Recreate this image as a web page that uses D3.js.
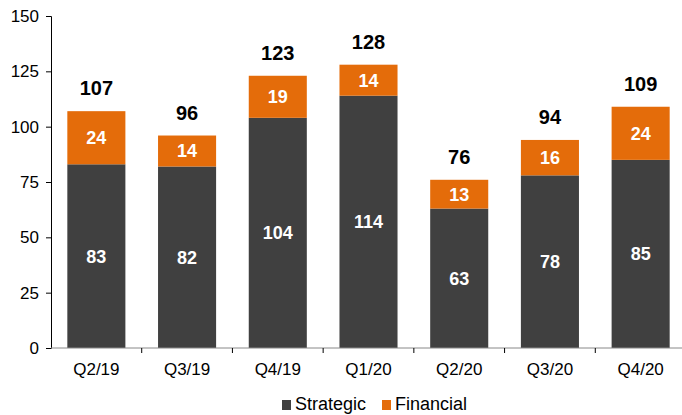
<!DOCTYPE html>
<meta charset="utf-8">
<head>
<title>strategic vs financial</title>
<script src="https://cdn.jsdelivr.net/npm/d3@7"></script>
<style>
  body { margin: 0; background: #fff; }
  svg { display: block; font-family: "Liberation Sans", Arial, sans-serif; }
</style>
</head>
<body>

<div id="chart"></div>

<script>

const width = 682;
const height = 415;

const quarters = ["Q2/19", "Q3/19", "Q4/19", "Q1/20", "Q2/20", "Q3/20", "Q4/20"];
const strategic = [83, 82, 104, 114, 63, 78, 85];
const financial = [24, 14, 19, 14, 13, 16, 24];
const yTicks = [0, 25, 50, 75, 100, 125, 150];
const seriesNames = ["Strategic", "Financial"];
const colors = ["#404040", "#e46c0a"];

const rows = quarters.map((q, i) => ({ q, Strategic: strategic[i], Financial: financial[i] }));
const stacked = d3.stack().keys(seriesNames)(rows);

const x = d3.scaleBand()
    .domain(quarters)
    .range([51, 686])
    .paddingInner(0.36)
    .paddingOuter(0.18);

const y = d3.scaleLinear()
    .domain([0, 150])
    .range([348, 16]);

const svg = d3.select("#chart")
  .append("svg")
    .attr("width", width)
    .attr("height", height);

// y axis
const yAxis = svg.append("g")
    .attr("transform", "translate(51,0)")
    .call(d3.axisLeft(y).tickValues(yTicks).tickSize(5).tickPadding(7));
yAxis.select(".domain").attr("stroke", "#000");
yAxis.selectAll(".tick line").attr("stroke", "#000");
yAxis.selectAll("text").style("font-size", "17px").attr("fill", "#000");

// bars
const layer = svg.append("g")
  .selectAll("g")
  .data(stacked)
  .join("g")
    .attr("fill", (d, i) => colors[i]);

layer.selectAll("rect")
  .data(d => d)
  .join("rect")
    .attr("x", d => x(d.data.q))
    .attr("y", d => y(d[1]))
    .attr("width", x.bandwidth())
    .attr("height", d => y(d[0]) - y(d[1]));

// segment labels
layer.selectAll("text")
  .data(d => d)
  .join("text")
    .attr("x", d => x(d.data.q) + x.bandwidth() / 2)
    .attr("y", d => (y(d[0]) + y(d[1])) / 2)
    .attr("dy", "0.36em")
    .attr("text-anchor", "middle")
    .attr("fill", "#fff")
    .style("font-size", "18px")
    .style("font-weight", "bold")
    .text(d => d[1] - d[0]);

// x axis
const xAxis = svg.append("g")
    .attr("transform", "translate(0,348)")
    .call(d3.axisBottom(x).tickSize(0).tickPadding(15));
xAxis.select(".domain").attr("stroke", "#888").attr("d", "M51,0H682");
xAxis.selectAll("text").style("font-size", "17px").attr("fill", "#000");

svg.append("g")
  .selectAll("line")
  .data(quarters.slice(1))
  .join("line")
    .attr("x1", d => x(d) - x.step() * x.paddingInner() / 2)
    .attr("x2", d => x(d) - x.step() * x.paddingInner() / 2)
    .attr("y1", 348)
    .attr("y2", 353)
    .attr("stroke", "#000");

// totals
svg.append("g")
  .selectAll("text")
  .data(rows)
  .join("text")
    .attr("x", d => x(d.q) + x.bandwidth() / 2)
    .attr("y", d => y(d.Strategic + d.Financial) - 16)
    .attr("text-anchor", "middle")
    .attr("fill", "#000")
    .style("font-size", "20px")
    .style("font-weight", "bold")
    .text(d => d.Strategic + d.Financial);

// legend
const legend = svg.append("g")
  .selectAll("g")
  .data(seriesNames)
  .join("g")
    .attr("transform", (d, i) => `translate(${282 + i * 100},400)`);

legend.append("rect")
    .attr("width", 9)
    .attr("height", 10)
    .attr("fill", (d, i) => colors[i]);

legend.append("text")
    .attr("x", 13)
    .attr("y", 10)
    .style("font-size", "18px")
    .attr("fill", "#000")
    .text(d => d);

</script>

</body>
